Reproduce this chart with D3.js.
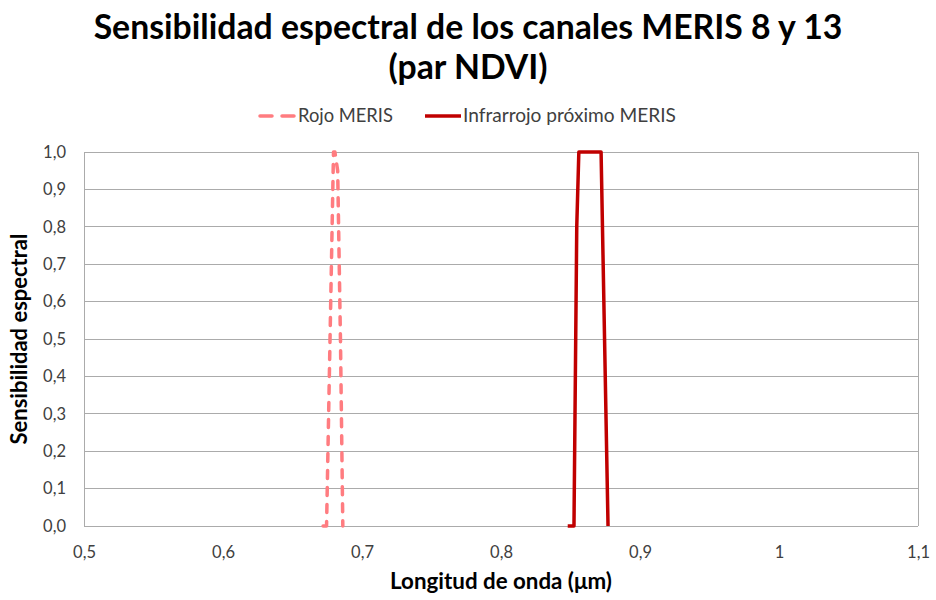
<!DOCTYPE html>
<html><head><meta charset="utf-8">
<script src="https://cdn.jsdelivr.net/npm/d3@7"></script>
<style>body{margin:0;background:#fff}svg{display:block}text{font-family:Lato,"Open Sans",sans-serif}</style>
</head><body>
<svg id="c" width="936" height="600"></svg>
<script>
const titleLines = ["Sensibilidad espectral de los canales MERIS 8 y 13", "(par NDVI)"];
const seriesNames = ["Rojo MERIS", "Infrarrojo próximo MERIS"];
// wavelength (µm), sensitivity
const rojoX = [0.6720, 0.6745, 0.6770, 0.6795, 0.6805, 0.6825, 0.6845, 0.6862];
const rojoY = [0.00, 0.00, 0.50, 1.00, 1.00, 0.95, 0.50, 0.00];
const nirX = [0.8480, 0.8525, 0.8545, 0.8560, 0.8720, 0.8745, 0.8770];
const nirY = [0.00, 0.00, 0.80, 1.00, 1.00, 0.50, 0.00];
const xTicks = [0.5, 0.6, 0.7, 0.8, 0.9, 1.0, 1.1];
const xTickLabels = ["0,5", "0,6", "0,7", "0,8", "0,9", "1", "1,1"];
const yTicks = [0, 0.1, 0.2, 0.3, 0.4, 0.5, 0.6, 0.7, 0.8, 0.9, 1.0];
const yTickLabels = ["0,0","0,1","0,2","0,3","0,4","0,5","0,6","0,7","0,8","0,9","1,0"];
const xTitle = "Longitud de onda (μm)";
const yTitle = "Sensibilidad espectral";

const svg = d3.select("#c");
const L = 84, R = 918, T = 152, B = 526;
const x = d3.scaleLinear().domain([0.5, 1.1]).range([L, R]);
const y = d3.scaleLinear().domain([0, 1]).range([B, T]);

function fit(sel, w) {
  const n = sel.node();
  const cur = n.getComputedTextLength();
  const fs = parseFloat(sel.attr("font-size"));
  sel.attr("font-size", fs * w / cur);
}

// title
const t1 = svg.append("text").attr("x", 468).attr("y", 39).attr("text-anchor", "middle")
  .attr("font-weight", "bold").attr("font-size", 30).attr("fill", "#000").text(titleLines[0]);
fit(t1, 749);
const fs = t1.attr("font-size");
svg.append("text").attr("x", 468).attr("y", 79).attr("text-anchor", "middle")
  .attr("font-weight", "bold").attr("font-size", fs).attr("fill", "#000").text(titleLines[1]);

// gridlines
svg.append("g").selectAll("line").data(yTicks).join("line")
  .attr("x1", L).attr("x2", R).attr("y1", d => y(d)).attr("y2", d => y(d))
  .attr("stroke", "#ababab").attr("stroke-width", 1).attr("shape-rendering", "crispEdges");
svg.append("line").attr("x1", L).attr("x2", L).attr("y1", T).attr("y2", B)
  .attr("stroke", "#ababab").attr("shape-rendering", "crispEdges");
svg.append("line").attr("x1", R).attr("x2", R).attr("y1", T).attr("y2", B)
  .attr("stroke", "#ababab").attr("shape-rendering", "crispEdges");

// axes
const xAxis = d3.axisBottom(x).tickValues(xTicks).tickFormat((d, i) => xTickLabels[i]).tickSize(0).tickPadding(20);
const gx = svg.append("g").attr("transform", `translate(0,${B})`).call(xAxis);
gx.select(".domain").remove();
gx.selectAll("text").attr("font-size", 16.5).attr("fill", "#404040").style("font-family", "Lato, sans-serif");

const yAxis = d3.axisLeft(y).tickValues(yTicks).tickFormat((d, i) => yTickLabels[i]).tickSize(0).tickPadding(18);
const gy = svg.append("g").attr("transform", `translate(${L},0)`).call(yAxis);
gy.select(".domain").remove();
gy.selectAll("text").attr("font-size", 16.5).attr("fill", "#404040").style("font-family", "Lato, sans-serif");

// axis titles
const xt = svg.append("text").attr("x", (L + R) / 2).attr("y", 589).attr("text-anchor", "middle")
  .attr("font-weight", "bold").attr("font-size", 18).attr("fill", "#000").text(xTitle);
fit(xt, 222);
const yt = svg.append("text").attr("transform", `translate(27,${(T + B) / 2}) rotate(-90)`).attr("text-anchor", "middle")
  .attr("font-weight", "bold").attr("font-size", 18).attr("fill", "#000").text(yTitle);
fit(yt, 211);

// lines
const line = d3.line().x(d => x(d[0])).y(d => y(d[1]));
const rojo = rojoX.map((v, i) => [v, rojoY[i]]);
const nir = nirX.map((v, i) => [v, nirY[i]]);
svg.append("path").attr("d", line(rojo)).attr("fill", "none").attr("stroke", "#ff7c80")
  .attr("stroke-width", 3.5).attr("stroke-dasharray", "8,9").attr("stroke-linecap", "round").attr("stroke-linejoin", "round");
svg.append("path").attr("d", line(nir)).attr("fill", "none").attr("stroke", "#c00000")
  .attr("stroke-width", 3.5).attr("stroke-linejoin", "round");

// legend
const lg = svg.append("g");
lg.append("line").attr("x1", 260).attr("x2", 295).attr("y1", 116).attr("y2", 116)
  .attr("stroke", "#ff7c80").attr("stroke-width", 3.5).attr("stroke-dasharray", "12,10").attr("stroke-linecap", "round");
const l1 = lg.append("text").attr("x", 298).attr("y", 122).attr("font-size", 16).attr("fill", "#404040").text(seriesNames[0]);
fit(l1, 95);
lg.append("line").attr("x1", 425).attr("x2", 461).attr("y1", 116).attr("y2", 116)
  .attr("stroke", "#c00000").attr("stroke-width", 3.5);
const l2 = lg.append("text").attr("x", 463).attr("y", 122).attr("font-size", 16).attr("fill", "#404040").text(seriesNames[1]);
fit(l2, 213);
</script>
</body></html>
